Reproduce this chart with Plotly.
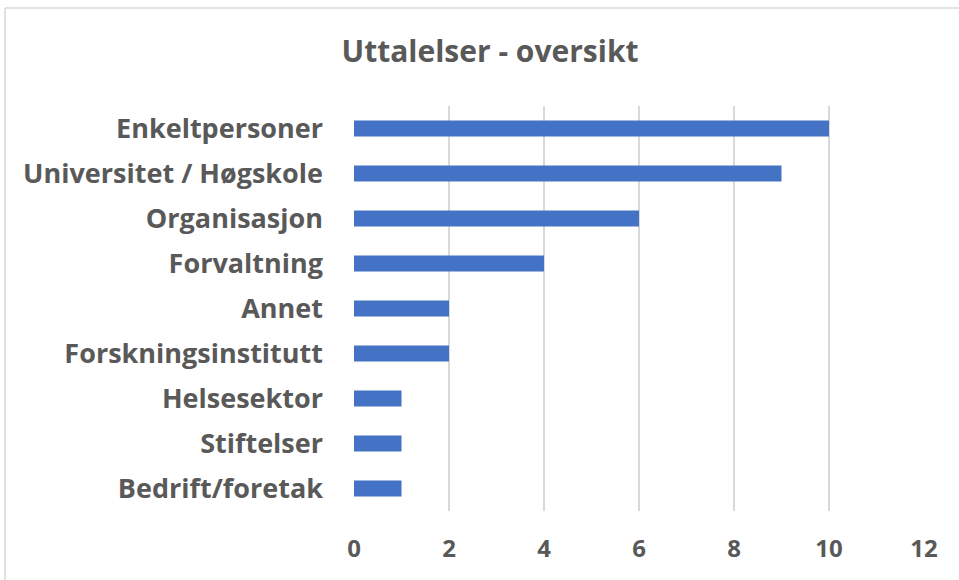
import plotly.graph_objects as go

categories = ["Enkeltpersoner", "Universitet / Høgskole", "Organisasjon", "Forvaltning",
              "Annet", "Forskningsinstitutt", "Helsesektor", "Stiftelser", "Bedrift/foretak"]
values = [10, 9, 6, 4, 2, 2, 1, 1, 1]
x_ticks = [0, 2, 4, 6, 8, 10, 12]
title_text = "Uttalelser - oversikt"

W, H = 959, 580
L, R, T, B = 354, 35, 106, 69
TXT = "#595959"
GRID = "#D9D9D9"
FONT = "Open Sans"

fig = go.Figure(go.Bar(
    y=categories, x=values, orientation="h",
    marker=dict(color="#4472C4", line=dict(width=0)),
    width=0.36,
))

pw, ph = W - L - R, H - T - B

fig.update_layout(
    width=W, height=H,
    margin=dict(l=L, r=R, t=T, b=B),
    plot_bgcolor="white", paper_bgcolor="white",
    showlegend=False,
    title=dict(text=f"<b>{title_text}</b>", x=(490 / W), xanchor="center",
               y=1 - 51 / H, yanchor="middle",
               font=dict(family=FONT, size=30, color=TXT)),
    font=dict(family=FONT, color=TXT),
    xaxis=dict(range=[0, 12], tickvals=x_ticks, ticktext=[f"<b>{v}</b>" for v in x_ticks],
               showgrid=True, gridcolor=GRID, gridwidth=1.5,
               zeroline=False, showline=False, ticks="", ticklabelstandoff=21,
               tickfont=dict(family=FONT, size=24, color=TXT)),
    yaxis=dict(autorange="reversed", categoryorder="array", categoryarray=categories,
               tickvals=categories, ticktext=[f"<b>{c}</b>" for c in categories],
               showgrid=False, zeroline=False, showline=False, ticks="",
               ticklabelstandoff=30,
               tickfont=dict(family=FONT, size=27, color=TXT)),
)

# chart-area frame: left and top edges only (image is cropped)
fx = (5 - L) / pw
fy = 1 + (T - 8) / ph
fig.add_shape(type="line", xref="paper", yref="paper",
              x0=fx, x1=fx, y0=-B / ph, y1=fy,
              line=dict(color=GRID, width=1.5))
fig.add_shape(type="line", xref="paper", yref="paper",
              x0=fx, x1=1 + R / pw, y0=fy, y1=fy,
              line=dict(color=GRID, width=1.5))

fig.write_html("out.html", config={"displayModeBar": False},
               post_script="document.body.style.margin='0';")
